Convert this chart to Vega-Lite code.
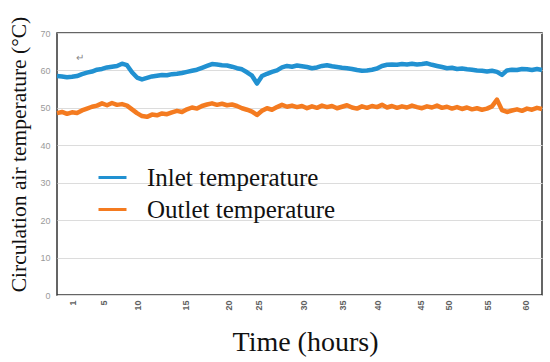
{
  "$schema": "https://vega.github.io/schema/vega-lite/v6.json",
  "width": 485,
  "height": 262,
  "autosize": {"type": "none"},
  "padding": {"left": 57, "top": 33, "right": 8, "bottom": 67},
  "background": "white",
  "config": {
    "view": {"stroke": "#333333", "strokeWidth": 1.5},
    "font": "Liberation Sans"
  },
  "encoding": {
    "x": {
      "field": "s",
      "type": "quantitative",
      "scale": {"domain": [0, 97], "nice": false, "zero": false},
      "axis": {
        "values": [3, 9.2, 16, 25.6, 34.2, 40.2, 49.2, 57, 64, 72.6, 78.2, 86, 93.6],
        "labelExpr": "['1','5','10','15','20','25','30','35','40','45','50','55','60'][indexof([30,92,160,256,342,402,492,570,640,726,782,860,936], round(datum.value*10))]",
        "labelAngle": -90,
        "labelAlign": "right",
        "labelBaseline": "middle",
        "labelFont": "Liberation Sans",
        "labelFontSize": 9,
        "labelFontWeight": "bold",
        "labelColor": "#606060",
        "labelPadding": 5,
        "labelOverlap": false,
        "ticks": false,
        "tickSize": 0,
        "domain": false,
        "grid": false,
        "title": "Time (hours)",
        "titleFont": "Liberation Serif",
        "titleFontSize": 28,
        "titleFontWeight": "normal",
        "titleColor": "#111111",
        "titlePadding": 18,
        "titleX": 248
      }
    },
    "y": {
      "field": "value",
      "type": "quantitative",
      "scale": {"domain": [0, 70], "nice": false},
      "axis": {
        "values": [0, 10, 20, 30, 40, 50, 60, 70],
        "labelFont": "Liberation Sans",
        "labelFontSize": 9,
        "labelColor": "#9a9a9a",
        "labelPadding": 7,
        "labelOverlap": false,
        "ticks": false,
        "tickSize": 0,
        "domain": false,
        "grid": true,
        "gridColor": "#dcdcdc",
        "gridWidth": 1,
        "title": "Circulation air temperature (°C)",
        "titleFont": "Liberation Serif",
        "titleFontSize": 21.5,
        "titleFontWeight": "normal",
        "titleColor": "#111111",
        "titlePadding": 9,
        "titleY": 121
      }
    }
  },
  "layer": [
    {
      "data": {
        "values": [
          {"s":0,"Inlet temperature":58.5,"Outlet temperature":48.6},
          {"s":1,"Inlet temperature":58.4,"Outlet temperature":48.9},
          {"s":2,"Inlet temperature":58.2,"Outlet temperature":48.4},
          {"s":3,"Inlet temperature":58.3,"Outlet temperature":48.8},
          {"s":4,"Inlet temperature":58.5,"Outlet temperature":48.6},
          {"s":5,"Inlet temperature":59.0,"Outlet temperature":49.3},
          {"s":6,"Inlet temperature":59.4,"Outlet temperature":49.8},
          {"s":7,"Inlet temperature":59.7,"Outlet temperature":50.3},
          {"s":8,"Inlet temperature":60.2,"Outlet temperature":50.6},
          {"s":9,"Inlet temperature":60.4,"Outlet temperature":51.2},
          {"s":10,"Inlet temperature":60.8,"Outlet temperature":50.7},
          {"s":11,"Inlet temperature":61.0,"Outlet temperature":51.3},
          {"s":12,"Inlet temperature":61.2,"Outlet temperature":50.8},
          {"s":13,"Inlet temperature":61.8,"Outlet temperature":51.0},
          {"s":14,"Inlet temperature":61.4,"Outlet temperature":50.6},
          {"s":15,"Inlet temperature":59.5,"Outlet temperature":49.6},
          {"s":16,"Inlet temperature":58.1,"Outlet temperature":48.6},
          {"s":17,"Inlet temperature":57.6,"Outlet temperature":47.8},
          {"s":18,"Inlet temperature":58.0,"Outlet temperature":47.6},
          {"s":19,"Inlet temperature":58.4,"Outlet temperature":48.2},
          {"s":20,"Inlet temperature":58.6,"Outlet temperature":48.0},
          {"s":21,"Inlet temperature":58.8,"Outlet temperature":48.5},
          {"s":22,"Inlet temperature":58.7,"Outlet temperature":48.3},
          {"s":23,"Inlet temperature":59.0,"Outlet temperature":48.8},
          {"s":24,"Inlet temperature":59.1,"Outlet temperature":49.2},
          {"s":25,"Inlet temperature":59.3,"Outlet temperature":48.9},
          {"s":26,"Inlet temperature":59.6,"Outlet temperature":49.6},
          {"s":27,"Inlet temperature":59.9,"Outlet temperature":50.1},
          {"s":28,"Inlet temperature":60.2,"Outlet temperature":49.8},
          {"s":29,"Inlet temperature":60.7,"Outlet temperature":50.5},
          {"s":30,"Inlet temperature":61.2,"Outlet temperature":50.9},
          {"s":31,"Inlet temperature":61.7,"Outlet temperature":51.2},
          {"s":32,"Inlet temperature":61.6,"Outlet temperature":50.8},
          {"s":33,"Inlet temperature":61.4,"Outlet temperature":51.1},
          {"s":34,"Inlet temperature":61.3,"Outlet temperature":50.7},
          {"s":35,"Inlet temperature":61.0,"Outlet temperature":50.9},
          {"s":36,"Inlet temperature":60.6,"Outlet temperature":50.5},
          {"s":37,"Inlet temperature":60.3,"Outlet temperature":49.9},
          {"s":38,"Inlet temperature":59.5,"Outlet temperature":49.5},
          {"s":39,"Inlet temperature":58.6,"Outlet temperature":49.0},
          {"s":40,"Inlet temperature":56.5,"Outlet temperature":48.1},
          {"s":41,"Inlet temperature":58.5,"Outlet temperature":49.2},
          {"s":42,"Inlet temperature":59.1,"Outlet temperature":49.9},
          {"s":43,"Inlet temperature":59.6,"Outlet temperature":49.5},
          {"s":44,"Inlet temperature":60.0,"Outlet temperature":50.2},
          {"s":45,"Inlet temperature":60.8,"Outlet temperature":50.8},
          {"s":46,"Inlet temperature":61.2,"Outlet temperature":50.3},
          {"s":47,"Inlet temperature":61.0,"Outlet temperature":50.6},
          {"s":48,"Inlet temperature":61.3,"Outlet temperature":50.2},
          {"s":49,"Inlet temperature":61.1,"Outlet temperature":50.5},
          {"s":50,"Inlet temperature":60.9,"Outlet temperature":49.9},
          {"s":51,"Inlet temperature":60.6,"Outlet temperature":50.4},
          {"s":52,"Inlet temperature":60.8,"Outlet temperature":50.0},
          {"s":53,"Inlet temperature":61.2,"Outlet temperature":50.6},
          {"s":54,"Inlet temperature":61.4,"Outlet temperature":50.2},
          {"s":55,"Inlet temperature":61.1,"Outlet temperature":50.5},
          {"s":56,"Inlet temperature":60.9,"Outlet temperature":49.9},
          {"s":57,"Inlet temperature":60.7,"Outlet temperature":50.3},
          {"s":58,"Inlet temperature":60.6,"Outlet temperature":50.7},
          {"s":59,"Inlet temperature":60.4,"Outlet temperature":50.1},
          {"s":60,"Inlet temperature":60.1,"Outlet temperature":49.8},
          {"s":61,"Inlet temperature":59.9,"Outlet temperature":50.4},
          {"s":62,"Inlet temperature":60.0,"Outlet temperature":50.0},
          {"s":63,"Inlet temperature":60.2,"Outlet temperature":50.5},
          {"s":64,"Inlet temperature":60.5,"Outlet temperature":50.2},
          {"s":65,"Inlet temperature":61.2,"Outlet temperature":50.8},
          {"s":66,"Inlet temperature":61.5,"Outlet temperature":50.1},
          {"s":67,"Inlet temperature":61.6,"Outlet temperature":50.5},
          {"s":68,"Inlet temperature":61.5,"Outlet temperature":50.0},
          {"s":69,"Inlet temperature":61.7,"Outlet temperature":50.4},
          {"s":70,"Inlet temperature":61.6,"Outlet temperature":50.1},
          {"s":71,"Inlet temperature":61.8,"Outlet temperature":50.6},
          {"s":72,"Inlet temperature":61.6,"Outlet temperature":50.2},
          {"s":73,"Inlet temperature":61.7,"Outlet temperature":49.9},
          {"s":74,"Inlet temperature":61.9,"Outlet temperature":50.4},
          {"s":75,"Inlet temperature":61.5,"Outlet temperature":50.1},
          {"s":76,"Inlet temperature":61.2,"Outlet temperature":50.6},
          {"s":77,"Inlet temperature":60.9,"Outlet temperature":50.0},
          {"s":78,"Inlet temperature":60.6,"Outlet temperature":50.3},
          {"s":79,"Inlet temperature":60.7,"Outlet temperature":49.8},
          {"s":80,"Inlet temperature":60.4,"Outlet temperature":50.2},
          {"s":81,"Inlet temperature":60.5,"Outlet temperature":49.7},
          {"s":82,"Inlet temperature":60.3,"Outlet temperature":50.1},
          {"s":83,"Inlet temperature":60.2,"Outlet temperature":49.6},
          {"s":84,"Inlet temperature":60.0,"Outlet temperature":49.9},
          {"s":85,"Inlet temperature":59.9,"Outlet temperature":49.5},
          {"s":86,"Inlet temperature":59.7,"Outlet temperature":49.8},
          {"s":87,"Inlet temperature":59.9,"Outlet temperature":50.4},
          {"s":88,"Inlet temperature":59.6,"Outlet temperature":52.2},
          {"s":89,"Inlet temperature":58.8,"Outlet temperature":49.4},
          {"s":90,"Inlet temperature":60.0,"Outlet temperature":48.9},
          {"s":91,"Inlet temperature":60.2,"Outlet temperature":49.3},
          {"s":92,"Inlet temperature":60.1,"Outlet temperature":49.6},
          {"s":93,"Inlet temperature":60.4,"Outlet temperature":49.2},
          {"s":94,"Inlet temperature":60.3,"Outlet temperature":49.8},
          {"s":95,"Inlet temperature":60.1,"Outlet temperature":49.5},
          {"s":96,"Inlet temperature":60.4,"Outlet temperature":50.0},
          {"s":97,"Inlet temperature":60.1,"Outlet temperature":49.7}
        ]
      },
      "transform": [
        {"fold": ["Inlet temperature", "Outlet temperature"], "as": ["series", "value"]}
      ],
      "mark": {"type": "line", "strokeWidth": 4.5, "strokeJoin": "round"},
      "encoding": {
        "color": {
          "field": "series",
          "type": "nominal",
          "scale": {"domain": ["Inlet temperature", "Outlet temperature"], "range": ["#2191d1", "#f47b20"]},
          "legend": {
            "title": null,
            "orient": "none",
            "legendX": 40,
            "legendY": 129,
            "symbolType": "stroke",
            "symbolSize": 784,
            "symbolStrokeWidth": 3,
            "labelFont": "Liberation Serif",
            "labelFontSize": 25,
            "labelColor": "#111111",
            "labelOffset": 19,
            "rowPadding": 3,
            "labelLimit": 400
          }
        }
      }
    },
    {
      "data": {"values": [{"s": 4.6, "value": 63.3, "label": "↵"}]},
      "mark": {"type": "text", "fontSize": 10, "color": "#888888"},
      "encoding": {
        "text": {"field": "label"}
      }
    }
  ]
}
